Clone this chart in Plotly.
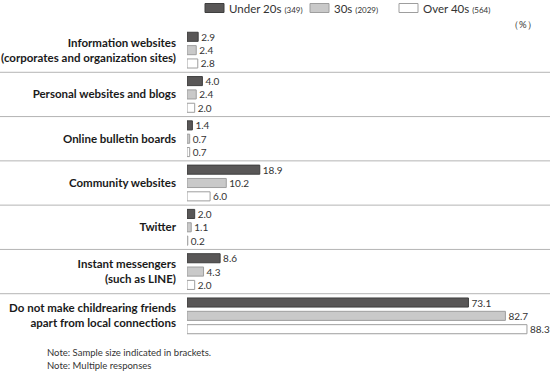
import plotly.graph_objects as go

categories = [
    "Information websites<br>(corporates and organization sites)",
    "Personal websites and blogs",
    "Online bulletin boards",
    "Community websites",
    "Twitter",
    "Instant messengers<br>(such as LINE)",
    "Do not make childrearing friends<br>apart from local connections",
]
series_names = ["Under 20s", "30s", "Over 40s"]
sample_sizes = ["349", "2029", "564"]
under20 = [2.9, 4.0, 1.4, 18.9, 2.0, 8.6, 73.1]
thirties = [2.4, 2.4, 0.7, 10.2, 1.1, 4.3, 82.7]
over40 = [2.8, 2.0, 0.7, 6.0, 0.2, 2.0, 88.3]
notes = ["Note: Sample size indicated in brackets.", "Note: Multiple responses"]

W, H = 550, 371
L, R, T, B = 187, 8, 28, 33
PW, PH = W - L - R, H - T - B
XMAX = PW / 3.85

def px_x(p):
    return (p - L) / PW

def px_y(p):
    return 1 - (p - T) / PH

FONT = "Lato"
fills = ["#595757", "#c9c9c9", "#ffffff"]
lines = ["#3f3f3f", "#9e9e9e", "#9e9e9e"]

fig = go.Figure()
for name, n, vals, fc, lc in zip(series_names, sample_sizes, [under20, thirties, over40], fills, lines):
    fig.add_trace(go.Bar(
        y=categories, x=vals, orientation="h",
        name=f"{name} ({n})", showlegend=False,
        marker=dict(color=fc, line=dict(color=lc, width=1)),
        text=[f"{v:.1f}" for v in vals], textposition="outside",
        constraintext="none",
        textfont=dict(family=FONT, size=10, color="#333333"),
        cliponaxis=False,
    ))

shapes = []
for i in range(len(categories) - 1):
    shapes.append(dict(type="line", xref="paper", yref="y",
                       x0=px_x(0), x1=px_x(W), y0=i + 0.5, y1=i + 0.5,
                       line=dict(color="#b4b4b4", width=1)))

annotations = [dict(text="（%）", xref="paper", yref="paper", x=px_x(539), y=px_y(25),
                    xanchor="right", yanchor="middle", showarrow=False,
                    font=dict(family=FONT, size=9.5, color="#333333"))]
for k, note in enumerate(notes):
    annotations.append(dict(text=note, xref="paper", yref="paper", x=px_x(45), y=px_y(352 + 13 * k),
                            xanchor="left", yanchor="middle", showarrow=False,
                            font=dict(family=FONT, size=9.5, color="#333333")))

# custom legend (box left edges in pixels)
legend_x = [205, 310, 399]
for name, n, fc, lc, lx in zip(series_names, sample_sizes, fills, lines, legend_x):
    shapes.append(dict(type="rect", xref="paper", yref="paper",
                       x0=px_x(lx), x1=px_x(lx + 19), y0=px_y(3.5), y1=px_y(12.5),
                       fillcolor=fc, line=dict(color=lc, width=1)))
    annotations.append(dict(text=f"{name} <span style='font-size:8px'>({n})</span>",
                            xref="paper", yref="paper", x=px_x(lx + 22), y=px_y(8),
                            xanchor="left", yanchor="middle", showarrow=False,
                            font=dict(family=FONT, size=11.5, color="#333333")))

fig.update_layout(
    width=W, height=H,
    margin=dict(l=L, r=R, t=T, b=B, autoexpand=False),
    paper_bgcolor="white", plot_bgcolor="white",
    barmode="group", bargap=0.096, bargroupgap=0.32,
    font=dict(family=FONT, color="#333333"),
    showlegend=False,
    xaxis=dict(range=[0, XMAX], visible=False, fixedrange=True),
    yaxis=dict(autorange="reversed", showgrid=False, zeroline=False, showline=False,
               ticks="", ticklabelstandoff=10, fixedrange=True,
               tickfont=dict(family=FONT, size=11.5, color="#1a1a1a", weight="bold")),
    shapes=shapes, annotations=annotations,
)

fig.write_html("out.html", config={"displayModeBar": False},
               post_script="document.body.style.margin='0';")
